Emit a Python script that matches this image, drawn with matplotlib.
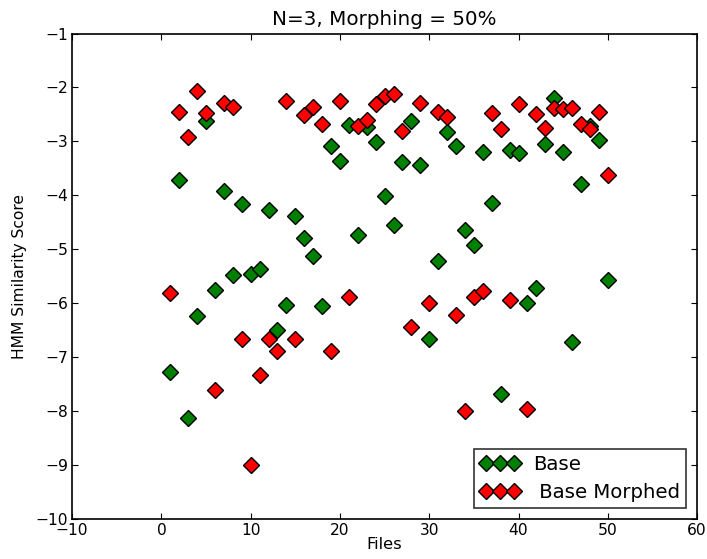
import matplotlib
matplotlib.use('Agg')
import matplotlib.pyplot as plt

# Files 1..50
files = list(range(1, 51))

base_scores = [
    -7.27, -3.71, -8.14, -6.24, -2.63, -5.76, -3.92, -5.48, -4.16, -5.46,
    -5.37, -4.27, -6.50, -6.04, -4.38, -4.79, -5.13, -6.06, -3.08, -3.36,
    -2.69, -4.74, -2.73, -3.01, -4.01, -4.55, -3.38, -2.62, -3.44, -6.67,
    -5.22, -2.82, -3.08, -4.64, -4.92, -3.19, -4.14, -7.69, -3.16, -3.21,
    -6.00, -5.72, -3.05, -2.19, -3.19, -6.73, -3.79, -2.72, -2.98, -5.57,
]

morphed_scores = [
    -5.81, -2.45, -2.92, -2.06, -2.48, -7.62, -2.28, -2.36, -6.67, -9.01,
    -7.34, -6.66, -6.89, -2.25, -6.67, -2.51, -2.36, -2.67, -6.89, -2.26,
    -5.89, -2.71, -2.60, -2.31, -2.15, -2.12, -2.80, -6.45, -2.28, -5.99,
    -2.45, -2.54, -6.22, -8.00, -5.89, -5.78, -2.47, -2.77, -5.95, -2.31,
    -7.96, -2.49, -2.76, -2.38, -2.40, -2.38, -2.67, -2.77, -2.46, -3.63,
]

plt.rcParams['xtick.direction'] = 'in'
plt.rcParams['ytick.direction'] = 'in'
plt.rcParams['xtick.top'] = True
plt.rcParams['ytick.right'] = True

fig = plt.figure(figsize=(7.07, 5.59), dpi=100)
ax = fig.add_axes([0.102, 0.072, 0.884, 0.868])

ax.plot(files, base_scores, linestyle='', marker='D', markersize=8,
        markerfacecolor='green', markeredgecolor='black', markeredgewidth=1,
        label='Base')
ax.plot(files, morphed_scores, linestyle='', marker='D', markersize=8,
        markerfacecolor='red', markeredgecolor='black', markeredgewidth=1,
        label=' Base Morphed')

ax.set_xlim(-10, 60)
ax.set_ylim(-10, -1)
ax.tick_params(labelsize=11.2, length=4, width=0.8, pad=3)
for s in ax.spines.values():
    s.set_linewidth(1.2)

ax.set_title('N=3, Morphing = 50%', fontsize=14.3)
ax.set_xlabel('Files', fontsize=11.8, labelpad=-1)
ax.set_ylabel('HMM Similarity Score', fontsize=11.2, labelpad=6)

leg = ax.legend(loc='lower right', numpoints=3, fontsize=14.2, fancybox=False,
                borderaxespad=0.55, handletextpad=0.7, labelspacing=0.45,
                borderpad=0.3)
leg.get_frame().set_edgecolor('black')
leg.get_frame().set_linewidth(1.2)

fig.savefig('out.png', dpi=100)
